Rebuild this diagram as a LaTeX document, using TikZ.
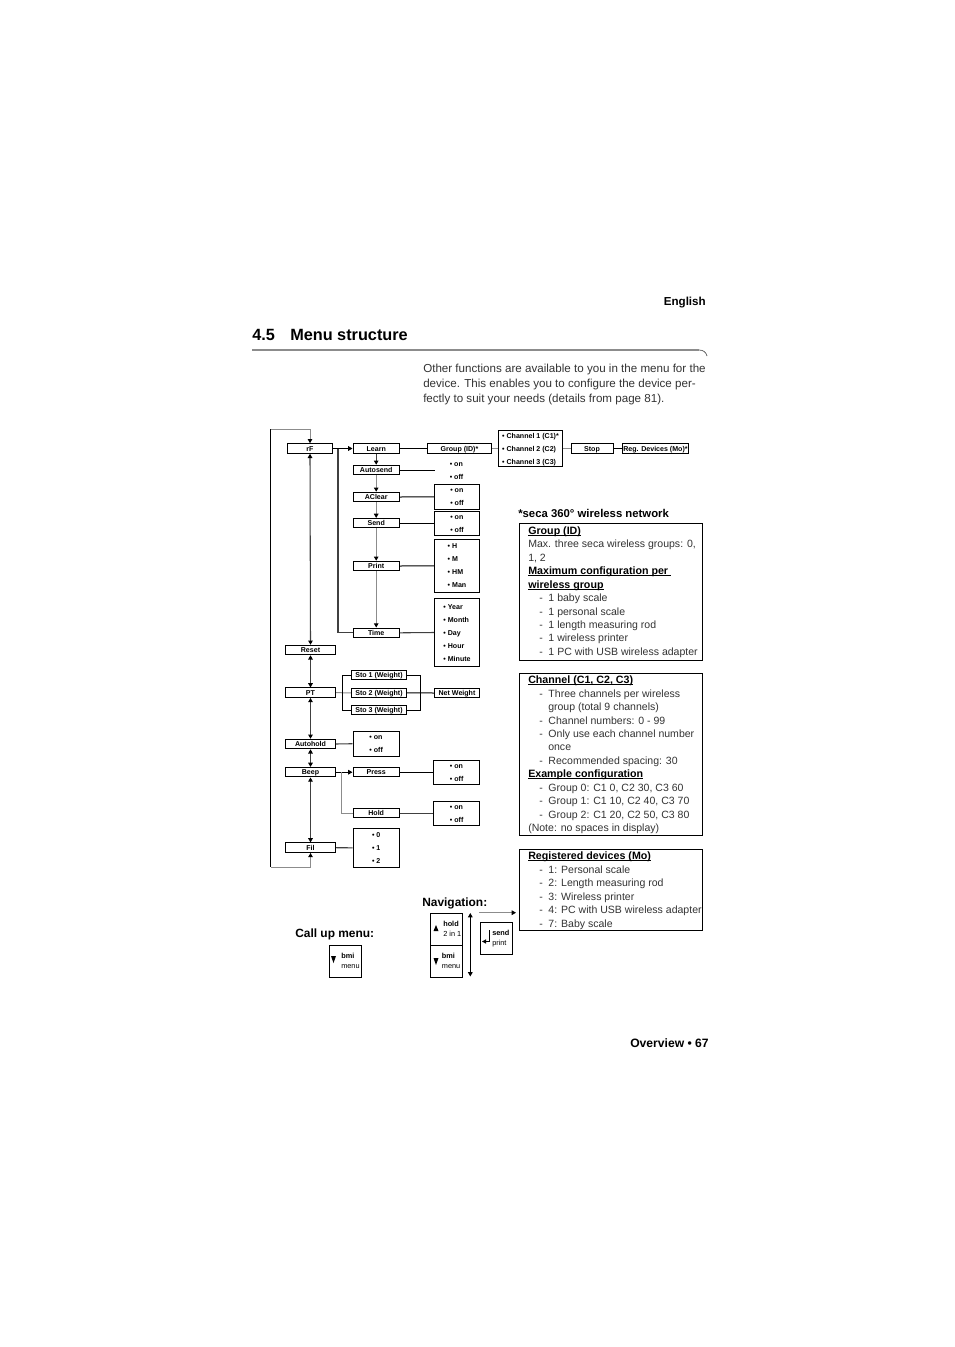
\documentclass[tikz,border=0pt]{standalone}
\usepackage{fontspec}
\setmainfont{Liberation Sans}
\usetikzlibrary{arrows.meta}
\definecolor{midgray}{gray}{0.55}
\definecolor{bodygray}{gray}{0.2}
\newcommand{\itm}[1]{\hbox to 6.9pt{-\hss}#1}
\newcommand{\ulin}[1]{\leavevmode\setbox0\hbox{#1}\rlap{\rule[-1.2pt]{\wd0}{0.55pt}}\box0}
\newcommand{\opts}[1]{\raisebox{-1.3pt}[0pt][0pt]{\begin{tabular}{@{}l@{}}#1\end{tabular}}}
\tikzset{
  x=0.75pt,y=-0.75pt,
  conn/.style={line width=0.75pt,black},
  conng/.style={line width=0.75pt,midgray},
  conndk/.style={line width=0.8pt,black!75},
  tip/.style={-{Triangle[length=3.2pt,width=3.4pt,color=black,fill=black]}},
  tips/.style={{Triangle[length=3.2pt,width=3.4pt,color=black,fill=black]}-{Triangle[length=3.2pt,width=3.4pt,color=black,fill=black]}},
  boxbase/.style={draw=black,line width=0.75pt,inner sep=0pt,fill=white},
  mbox/.style={boxbase,font=\fontsize{5.3}{5.3}\selectfont\bfseries,minimum height=7.1pt,text height=3.9pt,text depth=0pt},
  optbox/.style={boxbase,font=\fontsize{5.3}{9.75}\selectfont\bfseries},
  optfree/.style={inner sep=0pt,font=\fontsize{5.3}{9.75}\selectfont\bfseries},
  heading/.style={inner sep=0pt,anchor=base west,font=\fontsize{8.95}{10}\selectfont\bfseries},
  headsm/.style={inner sep=0pt,anchor=base west,font=\fontsize{8}{10}\selectfont\bfseries},
  para/.style={inner sep=0pt,anchor=base west,text=bodygray,font=\fontsize{8.7}{10}\selectfont},
  lst/.style={inner sep=0pt,anchor=base west,text=bodygray,font=\fontsize{7.9}{10}\selectfont},
  keybox/.style={draw=black,line width=0.75pt,inner sep=0pt,minimum width=24pt,minimum height=24pt},
  keytxt/.style={inner sep=0pt,anchor=base west,font=\fontsize{5.5}{6}\selectfont},
}
\begin{document}
\begin{tikzpicture}
\useasboundingbox[fill=white] (0,0) rectangle (954,1347);

% header
\node[inner sep=0pt,anchor=base east,font=\fontsize{8.7}{10}\selectfont\bfseries] (lang) at (706,305) {English};
\node[inner sep=0pt,anchor=base west,font=\fontsize{12.2}{14}\selectfont\bfseries] (secnum) at (252,340) {4.5};
\node[inner sep=0pt,anchor=base west,font=\fontsize{12.2}{14}\selectfont\bfseries] (sectitle) at (290,340) {Menu structure};
\draw[midgray,line width=0.9pt] (252,350) -- (699,350);
\draw[black!70,line width=0.5pt] (699,350) .. controls (703,350) and (706,352) .. (707,356);
\node[para] (p1) at (423,372) {Other functions are available to you in the menu for the};
\node[para] (p2) at (423,387) {device. This enables you to configure the device per-};
\node[para] (p3) at (423,402) {fectly to suit your needs (details from page 81).};
\node[inner sep=0pt,anchor=base east,font=\fontsize{9.1}{10}\selectfont\bfseries] (foot) at (709,1047) {Overview • 67};

% left column
\node[mbox,minimum width=34pt] (rF) at (310,448.5) {rF};
\node[mbox,minimum width=37.5pt] (Reset) at (310.5,650) {Reset};
\node[mbox,minimum width=37.5pt] (PT) at (310.5,692.7) {PT};
\node[mbox,minimum width=37.5pt] (Autohold) at (310.5,744) {Autohold};
\node[mbox,minimum width=37.5pt] (Beep) at (310.5,772.2) {Beep};
\node[mbox,minimum width=37.5pt] (Fil) at (310.5,847.7) {Fil};

% second column
\node[mbox,minimum width=34.8pt] (Learn) at (376.2,448.5) {Learn};
\node[mbox,minimum width=34.8pt] (Autosend) at (376.2,470) {Autosend};
\node[mbox,minimum width=34.8pt] (AClear) at (376.2,497) {AClear};
\node[mbox,minimum width=34.8pt] (Send) at (376.2,523.2) {Send};
\node[mbox,minimum width=34.8pt] (Print) at (376.2,566) {Print};
\node[mbox,minimum width=34.8pt] (Time) at (376.2,632.8) {Time};
\node[mbox,minimum width=34.8pt] (Press) at (376.2,772.2) {Press};
\node[mbox,minimum width=34.8pt] (Hold) at (376.2,813.2) {Hold};
\node[mbox,minimum width=41.5pt] (StoA) at (379,675.2) {Sto 1 (Weight)};
\node[mbox,minimum width=41.5pt] (StoB) at (379,692.8) {Sto 2 (Weight)};
\node[mbox,minimum width=41.5pt] (StoC) at (379,710) {Sto 3 (Weight)};

% top row
\node[mbox,minimum width=48pt] (Group) at (459.5,448.5) {Group (ID)*};
\node[optbox,minimum width=48pt,minimum height=27.7pt] (Channels) at (530.5,448.5) {\opts{• Channel 1 (C1)*\\• Channel 2 (C2)\\• Channel 3 (C3)}};
\node[mbox,minimum width=31.5pt] (Stop) at (592,448.5) {Stop};
\node[mbox,minimum width=50.2pt] (Reg) at (655.5,448.5) {Reg. Devices (Mo)*};
\node[mbox,minimum width=34pt] (Net) at (457,693) {Net Weight};

% option boxes
\node[optfree] (AutosendOpt) at (456.5,470) {\opts{• on\\• off}};
\coordinate (AutosendEnd) at (434.7,470);
\node[optbox,minimum width=34pt,minimum height=19pt] (AClearOpt) at (457,496.8) {\opts{• on\\• off}};
\node[optbox,minimum width=34pt,minimum height=18pt] (SendOpt) at (457,523.2) {\opts{• on\\• off}};
\node[optbox,minimum width=34pt,minimum height=40.2pt] (PrintOpt) at (457,565.8) {\opts{• H\\• M\\• HM\\• Man}};
\node[optbox,minimum width=34pt,minimum height=51.7pt] (TimeOpt) at (457,632.5) {\opts{• Year\\• Month\\• Day\\• Hour\\• Minute}};
\node[optbox,minimum width=34.8pt,minimum height=18.7pt] (AutoOpt) at (376.2,743.7) {\opts{• on\\• off}};
\node[optbox,minimum width=34.8pt,minimum height=18.2pt] (PressOpt) at (456.7,772.2) {\opts{• on\\• off}};
\node[optbox,minimum width=34.8pt,minimum height=18.2pt] (HoldOpt) at (456.7,813.2) {\opts{• on\\• off}};
\node[optbox,minimum width=34.8pt,minimum height=29.5pt] (FilOpt) at (376.2,847.8) {\opts{• 0\\• 1\\• 2}};

% connectors, right-going
\draw[conn,tip] (rF.east) -- (Learn.west);
\draw[conn] (Learn.east) -- (Group.west);
\draw[conng] (Group.east) -- (Channels.west);
\draw[conng] (Channels.east) -- (Stop.west);
\draw[conn] (Stop.east) -- (Reg.west);
\draw[conn] (Autosend.east) -- (AutosendEnd);
\draw[conn] (AClear.east) -- (AClearOpt.west);
\draw[conn] (Send.east) -- (SendOpt.west);
\draw[conn] (Print.east) -- (PrintOpt.west);
\draw[conndk] (Time.east) -- (TimeOpt.west);
\draw[conndk] (Autohold.east) -- (AutoOpt.west);
\draw[conn,tip] (Beep.east) -- (Press.west);
\draw[conn] (Press.east) -- (PressOpt.west);
\draw[conndk] (Hold.east) -- (HoldOpt.west);
\draw[conndk] (Fil.east) -- (FilOpt.west);

% branches
\coordinate (rFbranch) at (338,448.5);
\draw[conndk] (rFbranch) |- (Time.west);
\coordinate (Beepbranch) at (341,772.2);
\draw[conng] (Beepbranch) |- (Hold.west);
\coordinate (PTbranch) at (342.7,692.8);
\coordinate (NetBranch) at (420.7,692.8);
\draw[conng] (PT.east) -- (StoB.west);
\draw[conn] (StoA.west) -| (PTbranch) |- (StoC.west);
\draw[conn] (StoA.east) -| (NetBranch) |- (StoC.east);
\draw[conn] (StoB.east) -- (Net.west);

% vertical chain in second column
\draw[conndk,tip] (Learn.south) -- (Autosend.north);
\draw[conng,tip] (Autosend.south) -- (AClear.north);
\draw[conng,tip] (AClear.south) -- (Send.north);
\draw[conng,tip] (Send.south) -- (Print.north);
\draw[conng,tip] (Print.south) -- (Time.north);

% vertical chain in left column
\draw[conndk,tips] (rF.south) -- (Reset.north);
\draw[conndk,tips] (Reset.south) -- (PT.north);
\draw[conndk,tips] (PT.south) -- (Autohold.north);
\draw[conndk,tips] (Autohold.south) -- (Beep.north);
\draw[conndk,tips] (Beep.south) -- (Fil.north);

% loop
\coordinate (LoopTL) at (270.7,429);
\coordinate (LoopBL) at (270.7,867);
\draw[conn] (LoopTL) -- (LoopBL);
\draw[conng,tip] (LoopTL) -| (rF.north);
\draw[conng,tip] (LoopBL) -| (Fil.south);

% wireless network boxes
\node[heading,font=\fontsize{8.5}{10}\selectfont\bfseries] (seca) at (518,517) {*seca 360° wireless network};
\node[draw=black,line width=0.75pt,inner sep=0pt,minimum width=137.6pt,minimum height=102.75pt] (BoxA) at (611,591.5) {};
\node[draw=black,line width=0.75pt,inner sep=0pt,minimum width=137.6pt,minimum height=122pt] (BoxB) at (611,754.5) {};
\node[draw=black,line width=0.75pt,inner sep=0pt,minimum width=137.6pt,minimum height=60.75pt] (BoxC) at (611,889.5) {};

\node[headsm] (a1) at (528,534.5) {\ulin{Group (ID)}};
\node[lst] (a2) at (528,547.5) {Max. three seca wireless groups: 0,};
\node[lst] (a3) at (528,561) {1, 2};
\node[headsm] (a4) at (528,574.5) {\ulin{Maximum configuration per\ }};
\node[headsm] (a5) at (528,588) {\ulin{wireless group}};
\node[lst] (a6) at (539,601.5) {\itm{1 baby scale}};
\node[lst] (a7) at (539,615) {\itm{1 personal scale}};
\node[lst] (a8) at (539,628) {\itm{1 length measuring rod}};
\node[lst] (a9) at (539,641) {\itm{1 wireless printer}};
\node[lst] (a10) at (539,655) {\itm{1 PC with USB wireless adapter}};

\node[headsm] (b1) at (528,683) {\ulin{Channel (C1, C2, C3)}};
\node[lst] (b2) at (539,697) {\itm{Three channels per wireless}};
\node[lst] (b3) at (548,710) {group (total 9 channels)};
\node[lst] (b4) at (539,724) {\itm{Channel numbers: 0 - 99}};
\node[lst] (b5) at (539,737) {\itm{Only use each channel number}};
\node[lst] (b6) at (548,750) {once};
\node[lst] (b7) at (539,764) {\itm{Recommended spacing: 30}};
\node[headsm] (b8) at (528,777) {\ulin{Example configuration}};
\node[lst] (b9) at (539,791) {\itm{Group 0: C1 0, C2 30, C3 60}};
\node[lst] (b10) at (539,804) {\itm{Group 1: C1 10, C2 40, C3 70}};
\node[lst] (b11) at (539,818) {\itm{Group 2: C1 20, C2 50, C3 80}};
\node[lst] (b12) at (528,831) {(Note: no spaces in display)};

\node[headsm] (c1) at (528,859.5) {\ulin{Registered devices (Mo)}};
\node[lst] (c2) at (539,873) {\itm{1: Personal scale}};
\node[lst] (c3) at (539,886) {\itm{2: Length measuring rod}};
\node[lst] (c4) at (539,900) {\itm{3: Wireless printer}};
\node[lst] (c5) at (539,913) {\itm{4: PC with USB wireless adapter}};
\node[lst] (c6) at (539,927) {\itm{7: Baby scale}};

% navigation
\node[heading] (nav) at (422,906) {Navigation:};
\node[heading] (call) at (295,937) {Call up menu:};
\node[keybox] (KeyCall) at (345.7,961) {};
\node[keybox] (KeyHold) at (446.5,929) {};
\node[keybox] (KeyBmi) at (446.5,961.5) {};
\node[keybox] (KeySend) at (496.7,938.7) {};
\coordinate (NavTop) at (470.3,913);
\coordinate (NavBot) at (470.3,976.5);
\draw[conn,tips] (NavTop) -- (NavBot);
\coordinate (NavS) at (479,912.7);
\coordinate (NavE) at (516,912.7);
\draw[conng,tip] (NavS) -- (NavE);

\fill (331,956) -- (336,956) -- (333.5,963) -- cycle;
\node[keytxt] (t1a) at (341,958) {\bfseries bmi};
\node[keytxt] (t1b) at (341,968) {menu};

\fill (433.5,931) -- (438.5,931) -- (436,925) -- cycle;
\node[keytxt] (t2a) at (443,926.7) {\bfseries hold};
\node[keytxt] (t2b) at (443,936.7) {2 in 1};

\fill (433.5,958) -- (438.5,958) -- (436,965) -- cycle;
\node[keytxt] (t3a) at (441.7,958) {\bfseries bmi};
\node[keytxt] (t3b) at (441.7,968) {menu};

\draw[line width=0.6pt] (489.3,930) -- (489.3,941.5) -- (485,941.5);
\fill (482,941.5) -- (486,939.3) -- (486,943.7) -- cycle;
\node[keytxt] (t4a) at (492,935) {\bfseries send};
\node[keytxt] (t4b) at (492,945.7) {print};
\end{tikzpicture}
\end{document}
